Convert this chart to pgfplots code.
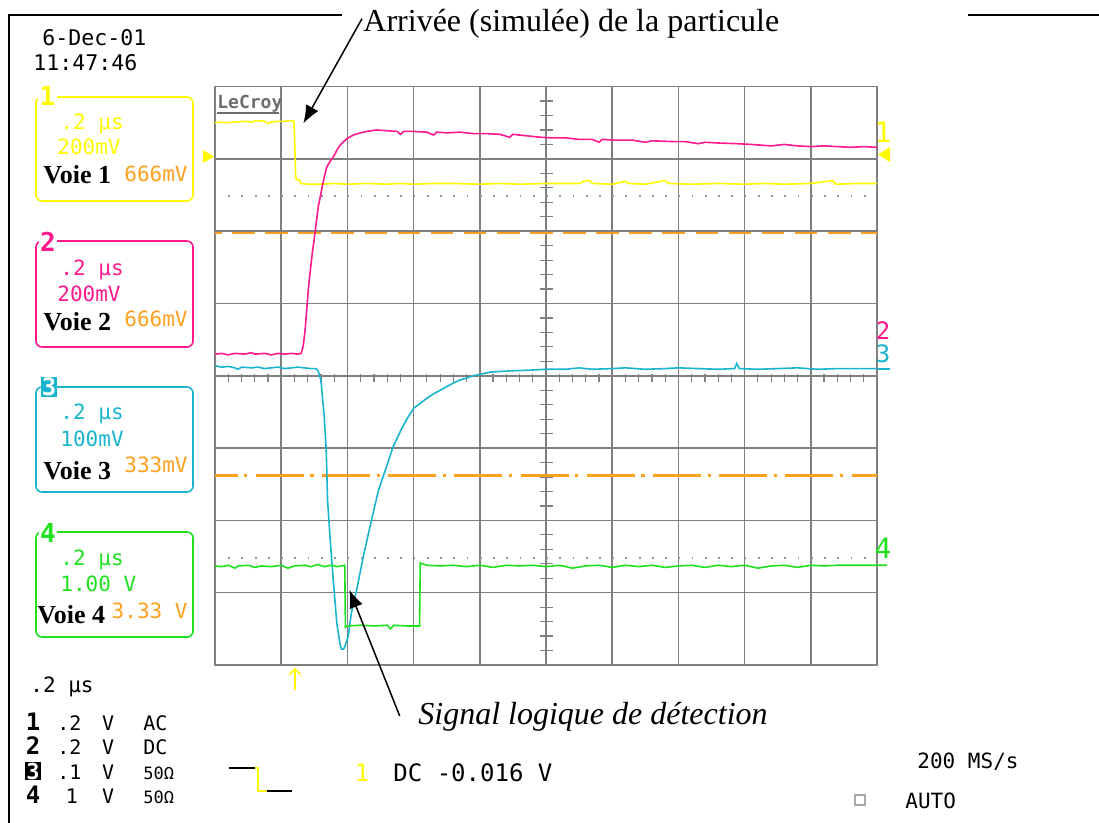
\documentclass[border=0pt]{standalone}
\usepackage{fontspec}
\setmainfont{Liberation Serif}
\newfontfamily\oscfont{DejaVu Sans Mono}
\usepackage{pgfplots}
\pgfplotsset{compat=1.18}
\usetikzlibrary{arrows.meta}

\definecolor{ch1}{RGB}{255,250,0}
\definecolor{ch2}{RGB}{255,25,140}
\definecolor{ch3}{RGB}{25,180,205}
\definecolor{ch4}{RGB}{30,225,30}
\definecolor{offs}{RGB}{255,160,30}
\definecolor{gridgray}{RGB}{128,128,128}
\definecolor{dotgray}{RGB}{150,150,150}

\newcommand{\osc}[1]{\oscfont\fontsize{#1}{#1}\selectfont}

\begin{document}
\begin{tikzpicture}
\begin{axis}[
  x=33.1pt, y=36.15pt, scale only axis,
  xmin=0, xmax=10, ymin=0, ymax=8,
  xtick={0,...,10}, ytick={0,...,8},
  xticklabels={}, yticklabels={},
  major tick length=0pt,
  grid=major,
  grid style={gridgray, line width=0.75pt},
  axis line style={gridgray, line width=0.75pt},
  clip=false,
]
% page corners
\coordinate (BL) at (axis cs:-3.248,-2.185);
\coordinate (TR) at (axis cs:13.353,9.198);

% centre axes with small ticks
\draw[gridgray, line width=0.75pt] (axis cs:0,4) -- (axis cs:10,4);
\draw[gridgray, line width=0.75pt] (axis cs:5,0) -- (axis cs:5,8);
\pgfplotsinvokeforeach{0.2,0.4,0.6,0.8,1.2,1.4,1.6,1.8,2.2,2.4,2.6,2.8,3.2,3.4,3.6,3.8,4.2,4.4,4.6,4.8,5.2,5.4,5.6,5.8,6.2,6.4,6.6,6.8,7.2,7.4,7.6,7.8,8.2,8.4,8.6,8.8,9.2,9.4,9.6,9.8}{
  \draw[gridgray, line width=0.6pt] (axis cs:#1,4.03) -- (axis cs:#1,3.91);
}
\pgfplotsinvokeforeach{0.2,0.4,0.6,0.8,1.2,1.4,1.6,1.8,2.2,2.4,2.6,2.8,3.2,3.4,3.6,3.8,4.2,4.4,4.6,4.8,5.2,5.4,5.6,5.8,6.2,6.4,6.6,6.8,7.2,7.4,7.6,7.8}{
  \draw[gridgray, line width=0.6pt] (axis cs:4.91,#1) -- (axis cs:5.1,#1);
}

% dotted trigger levels
\draw[dotgray, line width=0.9pt, dash pattern=on 0.9pt off 5.72pt] (axis cs:0.2,6.49) -- (axis cs:10,6.49);
\draw[dotgray, line width=0.9pt, dash pattern=on 0.9pt off 5.72pt] (axis cs:0.2,1.48) -- (axis cs:10,1.48);

% offset references
\draw[offs, line width=1.1pt, dash pattern=on 11.3pt off 5.25pt, dash phase=8pt] (axis cs:0,5.97) -- (axis cs:10,5.97);
\draw[offs, line width=1.1pt] (axis cs:0,2.62) -- (axis cs:0.34,2.62);
\pgfplotsinvokeforeach{0,1,2,3,4,5,6,7,8,9}{
  \draw[offs, line width=1.1pt] (axis cs:#1+0.44,2.62) -- (axis cs:#1+0.49,2.62);
  \draw[offs, line width=1.1pt] (axis cs:#1+0.615,2.62) -- (axis cs:{min(#1+1.34,10)},2.62);
}

% channel 1
\addplot[ch1, line width=0.8pt] coordinates {
(0,7.50) (0.08,7.51) (0.15,7.50) (0.3,7.51) (0.45,7.52) (0.55,7.51) (0.62,7.53) (0.75,7.52) (0.80,7.49) (0.85,7.51) (0.95,7.52) (1.05,7.52) (1.12,7.53) (1.19,7.52) (1.20,7.35) (1.21,7.0) (1.22,6.75) (1.23,6.71) (1.27,6.71) (1.30,6.66) (1.40,6.65) (1.6,6.65) (1.8,6.66) (2.0,6.65) (2.3,6.66) (2.6,6.65) (2.8,6.66) (3.0,6.65) (3.3,6.66) (3.6,6.66) (4.0,6.65) (4.3,6.66) (4.6,6.65) (5.0,6.66) (5.3,6.66) (5.5,6.66) (5.6,6.70) (5.66,6.70) (5.7,6.66) (6.0,6.65) (6.2,6.69) (6.25,6.66) (6.5,6.65) (6.8,6.70) (6.85,6.66) (7.2,6.65) (7.6,6.66) (8.0,6.65) (8.3,6.66) (8.6,6.65) (9.0,6.66) (9.33,6.70) (9.38,6.65) (9.7,6.66) (10,6.66)
};
% channel 2
\addplot[ch2, line width=0.8pt] coordinates {
(0,4.30) (0.1,4.31) (0.2,4.29) (0.3,4.31) (0.45,4.30) (0.55,4.32) (0.6,4.30) (0.75,4.31) (0.85,4.29) (0.95,4.31) (1.05,4.30) (1.15,4.31) (1.25,4.30) (1.30,4.31) (1.33,4.40) (1.36,4.62) (1.385,4.91) (1.41,5.2) (1.435,5.42) (1.47,5.70) (1.51,5.97) (1.56,6.34) (1.61,6.57) (1.65,6.75) (1.69,6.89) (1.74,6.97) (1.79,7.03) (1.84,7.12) (1.89,7.19) (1.99,7.28) (2.09,7.33) (2.2,7.36) (2.29,7.38) (2.44,7.40) (2.6,7.39) (2.75,7.38) (2.8,7.34) (2.85,7.38) (3.0,7.38) (3.2,7.37) (3.3,7.33) (3.35,7.37) (3.5,7.36) (3.7,7.37) (3.9,7.35) (4.1,7.35) (4.3,7.34) (4.45,7.30) (4.5,7.34) (4.7,7.32) (4.91,7.30) (5.1,7.29) (5.3,7.29) (5.5,7.27) (5.7,7.27) (5.8,7.23) (5.85,7.27) (6.0,7.26) (6.3,7.26) (6.5,7.23) (6.6,7.25) (6.92,7.24) (7.1,7.24) (7.3,7.21) (7.4,7.23) (7.6,7.22) (7.9,7.21) (8.1,7.20) (8.4,7.18) (8.6,7.20) (8.8,7.18) (9.0,7.17) (9.2,7.18) (9.4,7.17) (9.6,7.16) (9.8,7.17) (10,7.16)
};
% channel 3
\addplot[ch3, line width=0.8pt] coordinates {
(0,4.14) (0.1,4.12) (0.2,4.13) (0.3,4.11) (0.35,4.09) (0.4,4.12) (0.55,4.11) (0.65,4.12) (0.75,4.10) (0.85,4.11) (0.95,4.12) (1.05,4.10) (1.15,4.11) (1.25,4.12) (1.35,4.11) (1.45,4.10) (1.53,4.10) (1.56,4.06) (1.60,3.94) (1.65,3.43) (1.68,2.97) (1.70,2.28) (1.74,1.73) (1.79,1.13) (1.84,0.58) (1.89,0.28) (1.91,0.22) (1.94,0.22) (1.96,0.25) (2.01,0.39) (2.06,0.72) (2.14,1.04) (2.24,1.50) (2.34,1.91) (2.47,2.42) (2.59,2.74) (2.69,3.02) (2.82,3.27) (2.91,3.42) (3.0,3.55) (3.1,3.62) (3.20,3.69) (3.30,3.75) (3.40,3.80) (3.50,3.85) (3.60,3.90) (3.70,3.94) (3.80,3.97) (3.9,4.00) (4.0,4.02) (4.15,4.05) (4.30,4.06) (4.5,4.07) (4.8,4.08) (5.0,4.09) (5.3,4.09) (5.5,4.11) (5.7,4.09) (6.0,4.10) (6.2,4.11) (6.5,4.09) (6.8,4.10) (7.0,4.11) (7.3,4.10) (7.6,4.09) (7.85,4.10) (7.88,4.17) (7.92,4.10) (8.2,4.09) (8.5,4.10) (8.8,4.11) (9.1,4.09) (9.4,4.10) (9.7,4.10) (10,4.10)
};
% channel 4
\addplot[ch4, line width=0.8pt] coordinates {
(0,1.37) (0.1,1.36) (0.2,1.38) (0.3,1.34) (0.35,1.37) (0.5,1.38) (0.6,1.35) (0.7,1.37) (0.85,1.36) (1.0,1.38) (1.1,1.34) (1.2,1.37) (1.35,1.38) (1.45,1.36) (1.55,1.39) (1.65,1.36) (1.75,1.38) (1.85,1.36) (1.96,1.38) (1.97,0.52) (2.0,0.54) (2.2,0.55) (2.4,0.54) (2.6,0.55) (2.65,0.50) (2.7,0.55) (2.9,0.54) (3.09,0.54) (3.10,1.41) (3.2,1.38) (3.4,1.37) (3.6,1.38) (3.8,1.36) (4.0,1.38) (4.2,1.35) (4.4,1.38) (4.6,1.37) (4.8,1.38) (5.0,1.36) (5.2,1.38) (5.4,1.34) (5.6,1.37) (5.8,1.38) (6.0,1.35) (6.2,1.38) (6.4,1.36) (6.6,1.38) (6.8,1.35) (7.0,1.37) (7.2,1.38) (7.4,1.35) (7.6,1.38) (7.8,1.36) (8.0,1.38) (8.2,1.34) (8.4,1.37) (8.6,1.38) (8.8,1.35) (9.0,1.38) (9.2,1.37) (9.4,1.38) (9.6,1.38) (9.8,1.38) (10,1.38) (10.15,1.38)
};

% LeCroy logo
\node[anchor=base west, inner sep=0pt, text=gridgray!85!black, font=\oscfont\bfseries\fontsize{9}{9}\selectfont] at (axis cs:0.03,7.70) {LeCroy};
\draw[gridgray!85!black, line width=0.9pt] (axis cs:0.03,7.63) -- (axis cs:0.967,7.63);

% trace markers
\fill[ch1] (axis cs:-0.015,7.033) -- (axis cs:-0.181,7.123) -- (axis cs:-0.181,6.943) -- cycle;
\fill[ch1] (axis cs:10.015,7.061) -- (axis cs:10.196,7.165) -- (axis cs:10.196,6.957) -- cycle;
\node[text=ch1, font=\osc{14}, inner sep=0pt] at (axis cs:10.09,7.372) {1};
\node[text=ch2, font=\osc{12}, inner sep=0pt] at (axis cs:10.09,4.62) {2};
\node[text=ch3, font=\osc{12}, inner sep=0pt] at (axis cs:10.09,4.31) {3};
\draw[ch3, line width=1pt] (axis cs:10.02,4.094) -- (axis cs:10.2,4.094);
\node[text=ch4, font=\osc{14}, inner sep=0pt] at (axis cs:10.09,1.62) {4};
\draw[ch1, line width=0.7pt, -{Straight Barb[length=3pt,width=6pt]}] (axis cs:1.208,-0.346) -- (axis cs:1.208,-0.04);

% frame
\draw[black, line width=1pt] (axis cs:-3.112,-2.185) -- (axis cs:-3.112,8.997) -- (axis cs:1.918,8.997);
\draw[black, line width=1pt] (axis cs:11.375,8.997) -- (axis cs:13.353,8.997);

% date
\node[anchor=base west, inner sep=0pt, font=\osc{10.8}] at (axis cs:-2.613,8.575) {6-Dec-01};
\node[anchor=base west, inner sep=0pt, font=\osc{10.8}] at (axis cs:-2.749,8.22) {11:47:46};

% channel boxes
\draw[ch1, line width=0.8pt, rounded corners=3pt] (axis cs:-2.704,6.418) rectangle (axis cs:-0.332,7.856);
\draw[ch2, line width=0.8pt, rounded corners=3pt] (axis cs:-2.704,4.398) rectangle (axis cs:-0.332,5.864);
\draw[ch3, line width=0.8pt, rounded corners=3pt] (axis cs:-2.704,2.393) rectangle (axis cs:-0.332,3.845);
\draw[ch4, line width=0.8pt, rounded corners=3pt] (axis cs:-2.704,0.387) rectangle (axis cs:-0.332,1.840);
\node[fill=white, text=ch1, inner sep=0.8pt, font=\oscfont\bfseries\fontsize{13}{13}\selectfont] at (axis cs:-2.53,7.87) {1};
\node[fill=white, text=ch2, inner sep=0.8pt, font=\oscfont\bfseries\fontsize{13}{13}\selectfont] at (axis cs:-2.523,5.851) {2};
\node[fill=ch3, text=white, inner sep=0.6pt, font=\oscfont\bfseries\fontsize{12}{12}\selectfont] at (axis cs:-2.508,3.845) {3};
\node[fill=white, text=ch4, inner sep=0.8pt, font=\oscfont\bfseries\fontsize{13}{13}\selectfont] at (axis cs:-2.523,1.826) {4};

\node[anchor=base west, inner sep=0pt, text=ch1, font=\osc{10.5}] at (axis cs:-2.341,7.40) {.2 µs};
\node[anchor=base west, inner sep=0pt, text=ch1, font=\osc{10.5}] at (axis cs:-2.387,7.054) {200mV};
\node[anchor=base west, inner sep=0pt, font=\bfseries\fontsize{13}{13}\selectfont] at (axis cs:-2.598,6.653) {Voie 1};
\node[anchor=base east, inner sep=0pt, text=offs, font=\osc{10.5}] at (axis cs:-0.408,6.685) {666mV};

\node[anchor=base west, inner sep=0pt, text=ch2, font=\osc{10.5}] at (axis cs:-2.341,5.394) {.2 µs};
\node[anchor=base west, inner sep=0pt, text=ch2, font=\osc{10.5}] at (axis cs:-2.387,5.025) {200mV};
\node[anchor=base west, inner sep=0pt, font=\bfseries\fontsize{13}{13}\selectfont] at (axis cs:-2.598,4.633) {Voie 2};
\node[anchor=base east, inner sep=0pt, text=offs, font=\osc{10.5}] at (axis cs:-0.408,4.68) {666mV};

\node[anchor=base west, inner sep=0pt, text=ch3, font=\osc{10.5}] at (axis cs:-2.341,3.389) {.2 µs};
\node[anchor=base west, inner sep=0pt, text=ch3, font=\osc{10.5}] at (axis cs:-2.341,3.019) {100mV};
\node[anchor=base west, inner sep=0pt, font=\bfseries\fontsize{13}{13}\selectfont] at (axis cs:-2.598,2.568) {Voie 3};
\node[anchor=base east, inner sep=0pt, text=offs, font=\osc{10.5}] at (axis cs:-0.408,2.665) {333mV};

\node[anchor=base west, inner sep=0pt, text=ch4, font=\osc{10.5}] at (axis cs:-2.341,1.383) {.2 µs};
\node[anchor=base west, inner sep=0pt, text=ch4, font=\osc{10.5}] at (axis cs:-2.341,1.014) {1.00 V};
\node[anchor=base west, inner sep=0pt, font=\bfseries\fontsize{13}{13}\selectfont] at (axis cs:-2.689,0.577) {Voie 4};
\node[anchor=base east, inner sep=0pt, text=offs, font=\osc{10.5}] at (axis cs:-0.408,0.646) {3.33 V};

% bottom status lines
\node[anchor=base west, inner sep=0pt, font=\osc{10.5}] at (axis cs:-2.795,-0.387) {.2 µs};
\node[anchor=base, inner sep=0pt, font=\oscfont\bfseries\fontsize{12}{12}\selectfont] at (axis cs:-2.749,-0.899) {1};
\node[anchor=base, inner sep=0pt, font=\oscfont\bfseries\fontsize{12}{12}\selectfont] at (axis cs:-2.749,-1.235) {2};
\node[anchor=base, fill=black, text=white, inner sep=0.5pt, font=\oscfont\bfseries\fontsize{11}{11}\selectfont] at (axis cs:-2.749,-1.577) {3};
\node[anchor=base, inner sep=0pt, font=\oscfont\bfseries\fontsize{12}{12}\selectfont] at (axis cs:-2.749,-1.913) {4};
\node[anchor=base west, inner sep=0pt, font=\osc{10}] at (axis cs:-2.387,-0.899) {.2};
\node[anchor=base west, inner sep=0pt, font=\osc{10}] at (axis cs:-2.387,-1.235) {.2};
\node[anchor=base west, inner sep=0pt, font=\osc{10}] at (axis cs:-2.387,-1.577) {.1};
\node[anchor=base, inner sep=0pt, font=\osc{10}] at (axis cs:-2.16,-1.913) {1};
\node[anchor=base, inner sep=0pt, font=\osc{10}] at (axis cs:-1.616,-0.899) {V};
\node[anchor=base, inner sep=0pt, font=\osc{10}] at (axis cs:-1.616,-1.235) {V};
\node[anchor=base, inner sep=0pt, font=\osc{10}] at (axis cs:-1.616,-1.577) {V};
\node[anchor=base, inner sep=0pt, font=\osc{10}] at (axis cs:-1.616,-1.913) {V};
\node[anchor=base west, inner sep=0pt, font=\osc{10}] at (axis cs:-1.088,-0.899) {AC};
\node[anchor=base west, inner sep=0pt, font=\osc{10}] at (axis cs:-1.088,-1.235) {DC};
\node[anchor=base west, inner sep=0pt, font=\osc{8.5}] at (axis cs:-1.088,-1.577) {50Ω};
\node[anchor=base west, inner sep=0pt, font=\osc{8.5}] at (axis cs:-1.088,-1.913) {50Ω};

% trigger symbol
\draw[black, line width=0.8pt] (axis cs:0.211,-1.425) -- (axis cs:0.604,-1.425);
\draw[ch1, line width=1.2pt] (axis cs:0.604,-1.425) -- (axis cs:0.650,-1.425) -- (axis cs:0.650,-1.743) -- (axis cs:0.785,-1.743);
\draw[black, line width=0.8pt] (axis cs:0.785,-1.743) -- (axis cs:1.163,-1.743);
\node[anchor=base, inner sep=0pt, text=ch1, font=\osc{12}] at (axis cs:2.221,-1.614) {1};
\node[anchor=base west, inner sep=0pt, font=\osc{12}] at (axis cs:2.689,-1.614) {DC -0.016 V};
\node[anchor=base west, inner sep=0pt, font=\osc{10.5}] at (axis cs:10.604,-1.429) {200 MS/s};
\draw[gridgray!70, line width=0.6pt] (axis cs:9.668,-1.936) rectangle (axis cs:9.819,-1.798);
\node[anchor=base west, inner sep=0pt, font=\osc{10.5}] at (axis cs:10.423,-1.982) {AUTO};

% annotations
\node[anchor=base west, inner sep=0pt, font=\fontsize{16}{16}\selectfont] at (axis cs:2.236,8.769) {Arrivée (simulée) de la particule};
\draw[black, line width=0.75pt, -{Latex[length=9pt,width=7pt]}] (axis cs:2.22,8.94) -- (axis cs:1.334,7.49);
\node[anchor=base west, inner sep=0pt, font=\itshape\fontsize{16}{16}\selectfont] at (axis cs:3.066,-0.816) {Signal logique de détection};
\draw[black, line width=0.75pt, -{Latex[length=9pt,width=7pt]}] (axis cs:2.79,-0.705) -- (axis cs:2.03,1.04);
\end{axis}
\pgfresetboundingbox
\path[use as bounding box] (BL) rectangle (TR);
\end{tikzpicture}
\end{document}
